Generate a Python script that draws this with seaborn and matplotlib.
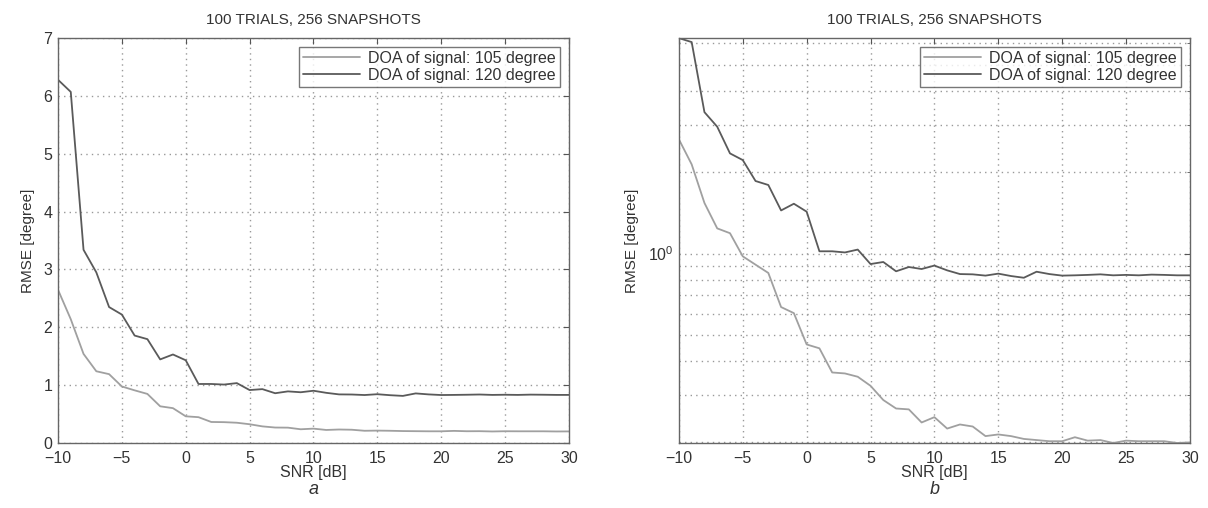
import numpy as np
import pandas as pd
import matplotlib
matplotlib.use("Agg")
import matplotlib.pyplot as plt
from matplotlib.ticker import NullFormatter, LogLocator, MultipleLocator
import seaborn as sns

# SNR axis, one point per dB
snr = list(range(-10, 31))

# RMSE [degree]
rmse_105 = [2.65, 2.14, 1.54, 1.24, 1.19, 0.977, 0.91, 0.848, 0.634, 0.602,
            0.461, 0.446, 0.363, 0.360, 0.350, 0.324, 0.287, 0.267, 0.265, 0.237,
            0.248, 0.225, 0.233, 0.229, 0.211, 0.214, 0.211, 0.206, 0.204, 0.202,
            0.202, 0.209, 0.203, 0.204, 0.199, 0.203, 0.202, 0.202, 0.202, 0.199,
            0.200]
rmse_120 = [6.28, 6.07, 3.34, 2.95, 2.35, 2.22, 1.857, 1.795, 1.445, 1.53,
            1.43, 1.02, 1.02, 1.01, 1.035, 0.915, 0.931, 0.860, 0.892, 0.877,
            0.903, 0.867, 0.840, 0.838, 0.829, 0.843, 0.826, 0.814, 0.857, 0.840,
            0.829, 0.831, 0.834, 0.838, 0.831, 0.834, 0.831, 0.836, 0.834, 0.831,
            0.831]

labels = ["DOA of signal: 105 degree", "DOA of signal: 120 degree"]
title = "100 TRIALS, 256 SNAPSHOTS"

df = pd.DataFrame({
    "snr": snr * 2,
    "rmse": rmse_105 + rmse_120,
    "series": [labels[0]] * len(snr) + [labels[1]] * len(snr),
})

sns.set_style("white")
plt.rcParams["font.family"] = ["Liberation Sans", "DejaVu Sans"]
plt.rcParams["mathtext.fontset"] = "custom"
plt.rcParams["mathtext.rm"] = "Liberation Sans"
plt.rcParams["mathtext.it"] = "Liberation Sans:italic"

txt = "#333333"
palette = {labels[0]: "#a0a0a0", labels[1]: "#5a5a5a"}
grid_ls = (0, (1, 3))

fig = plt.figure(figsize=(12.08, 5.08), dpi=100)
ax1 = fig.add_axes([0.048, 0.128, 0.423, 0.797])
ax2 = fig.add_axes([0.562, 0.128, 0.423, 0.797])

for ax, sub in [(ax1, "a"), (ax2, "b")]:
    sns.lineplot(data=df, x="snr", y="rmse", hue="series", palette=palette,
                 linewidth=1.3, ax=ax)
    ax.set_xlim(-10, 30)
    ax.xaxis.set_major_locator(MultipleLocator(5))
    ax.set_xlabel("SNR [dB]", fontsize=11.5, color=txt, labelpad=-1)
    ax.set_ylabel("RMSE [degree]", fontsize=11, color=txt, labelpad=6)
    ax.set_title(title, fontsize=11, color=txt, pad=10)
    ax.tick_params(which="both", direction="in", top=True, right=True,
                   labelsize=11.5, colors="#555555", labelcolor=txt, length=4, pad=4)
    ax.tick_params(axis="x", pad=6)
    ax.tick_params(which="minor", length=2.5)
    for s in ax.spines.values():
        s.set_color("#666666")
        s.set_linewidth(1.0)
    ax.grid(True, which="major", linestyle=grid_ls, color="#999999", linewidth=1.0)
    leg = ax.legend(loc="upper right", fontsize=11.5, frameon=True, fancybox=False,
                    borderpad=0.25, handlelength=3.6, handletextpad=0.5,
                    labelspacing=0.12, borderaxespad=0.55)
    leg.get_frame().set_edgecolor("#555555")
    leg.get_frame().set_linewidth(1.0)
    for t in leg.get_texts():
        t.set_color(txt)
    ax.text(0.5, -0.115, sub, transform=ax.transAxes, ha="center", va="center",
            fontsize=13, style="italic", color=txt)

ax1.set_ylim(0, 7)
ax1.yaxis.set_major_locator(MultipleLocator(1))

ax2.set_yscale("log")
ax2.set_ylim(min(rmse_105), max(rmse_120))
ax2.yaxis.set_major_locator(LogLocator(base=10))
ax2.yaxis.set_minor_locator(LogLocator(base=10, subs=np.arange(2, 10)))
ax2.yaxis.set_minor_formatter(NullFormatter())
ax2.grid(True, which="minor", axis="y", linestyle=grid_ls, color="#999999", linewidth=1.0)

fig.savefig("out.png", dpi=100)
